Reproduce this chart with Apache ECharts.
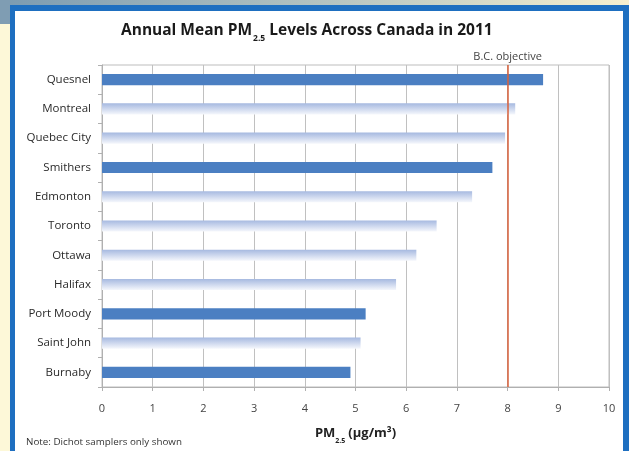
<!DOCTYPE html>
<html>
<head>
<meta charset="utf-8">
<script src="https://cdn.jsdelivr.net/npm/echarts@6/dist/echarts.min.js"></script>
<style>
  html, body { margin: 0; padding: 0; background: #ffffff; }
  #chart { width: 629px; height: 451px; }
</style>
</head>
<body>
<div id="chart"></div>
<script>
// Annual mean PM2.5 by city, 2011 (µg/m³)
const cities = ['Quesnel', 'Montreal', 'Quebec City', 'Smithers', 'Edmonton', 'Toronto',
                'Ottawa', 'Halifax', 'Port Moody', 'Saint John', 'Burnaby'];
const pm25 = [8.7, 8.15, 7.95, 7.7, 7.3, 6.6, 6.2, 5.8, 5.2, 5.1, 4.9];
// British Columbia sites are highlighted
const inBC = [true, false, false, true, false, false, false, false, true, false, true];
const bcObjective = 8;
const xTicks = [0, 1, 2, 3, 4, 5, 6, 7, 8, 9, 10];

const FONT = '"Open Sans", Lato, sans-serif';
const bcColor = '#4b7fc2';
const otherColor = new echarts.graphic.LinearGradient(0, 0, 0, 1, [
  { offset: 0, color: '#a6b9e0' },
  { offset: 1, color: '#f5f7fc' }
]);

const chart = echarts.init(document.getElementById('chart'), null, { renderer: 'canvas' });

chart.setOption({
  animation: false,
  backgroundColor: '#ffffff',
  textStyle: { fontFamily: FONT },
  graphic: [
    // page frame behind the chart
    { type: 'rect', z: -10, silent: true, shape: { x: 0, y: 0, width: 629, height: 6 },
      style: { fill: new echarts.graphic.LinearGradient(0, 0, 1, 0, [
        { offset: 0, color: '#7b9bb1' }, { offset: 0.55, color: '#b8c6c2' }, { offset: 1, color: '#f7f0cf' }]) } },
    { type: 'rect', z: -10, silent: true, shape: { x: 0, y: 0, width: 10, height: 24 }, style: { fill: '#7f9db3' } },
    { type: 'rect', z: -10, silent: true, shape: { x: 0, y: 24, width: 10, height: 427 }, style: { fill: '#fdf8d8' } },
    { type: 'rect', z: -9, silent: true, shape: { x: 10, y: 5, width: 619, height: 446 }, style: { fill: '#1e6fc0' } },
    { type: 'rect', z: -8, silent: true, shape: { x: 15, y: 11, width: 608, height: 440 }, style: { fill: '#ffffff' } },
    // note at the bottom
    { type: 'text', left: 26, top: 437,
      style: { text: 'Note: Dichot samplers only shown', fill: '#333', font: '9.8px ' + FONT } }
  ],
  title: {
    text: '{m|Annual Mean PM}{sub|2.5}{m|Levels Across Canada in 2011}',
    left: 116, top: 18,
    textStyle: {
      rich: {
        m: { fontFamily: FONT, fontSize: 15.5, fontWeight: 'bold', color: '#1a1a1a', lineHeight: 19, verticalAlign: 'top' },
        sub: { fontFamily: FONT, fontSize: 8.5, fontWeight: 'bold', color: '#1a1a1a', lineHeight: 10, padding: [11, 4, 0, 1], verticalAlign: 'top' }
      }
    }
  },
  grid: {
    left: 102, right: 20, top: 65, bottom: 64,
    show: true, borderColor: '#bdbdbd', borderWidth: 1, backgroundColor: 'transparent'
  },
  xAxis: {
    type: 'value', min: 0, max: 10, interval: 1,
    name: '{m|PM}{sub|2.5}{m|(µg/m³)}',
    nameLocation: 'middle', nameGap: 40,
    nameTextStyle: {
      fontSize: 13,
      rich: {
        m: { fontFamily: FONT, fontSize: 13, fontWeight: 'bold', color: '#222', lineHeight: 16, verticalAlign: 'top' },
        sub: { fontFamily: FONT, fontSize: 7, fontWeight: 'bold', color: '#222', lineHeight: 8, padding: [10, 3, 0, 0], verticalAlign: 'top' }
      }
    },
    axisLine: { show: true, lineStyle: { color: '#b0b0b0' } },
    axisTick: { show: true, length: 4, lineStyle: { color: '#b0b0b0' } },
    axisLabel: { color: '#444', fontSize: 11, margin: 16,
      formatter: v => xTicks.includes(v) ? String(v) : '' },
    splitLine: { show: true, lineStyle: { color: '#c0c0c0', width: 1 } }
  },
  yAxis: {
    type: 'category', data: cities, inverse: true,
    axisLine: { show: true, lineStyle: { color: '#b0b0b0' } },
    axisTick: { show: true, length: 4, lineStyle: { color: '#b0b0b0' } },
    axisLabel: { color: '#2a2a2a', fontSize: 11.5, margin: 11 },
    splitLine: { show: false }
  },
  series: [{
    type: 'bar',
    barCategoryGap: '62%',
    data: pm25.map((v, i) => ({
      value: v,
      itemStyle: { color: inBC[i] ? bcColor : otherColor }
    })),
    markLine: {
      silent: true, symbol: 'none',
      lineStyle: { color: '#d9603b', width: 1.5, type: 'solid' },
      label: { show: true, position: 'start', formatter: 'B.C. objective',
        color: '#444', fontSize: 11, fontFamily: FONT, distance: 3 },
      data: [{ xAxis: bcObjective }]
    }
  }]
});
</script>
</body>
</html>
